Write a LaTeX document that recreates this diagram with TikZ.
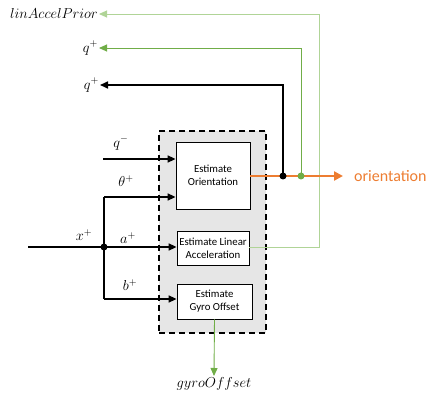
\documentclass[tikz,border=0pt]{standalone}
\usepackage{fontspec}
\setsansfont{Carlito}
\usepackage{mathtools}
\usepackage{xcolor}
\usepackage{tikz}
\usetikzlibrary{arrows.meta,calc}
\definecolor{orientorange}{HTML}{ED7D31}
\definecolor{outgreen}{HTML}{70AD47}
\definecolor{palegreen}{HTML}{B0D497}
\definecolor{filtergray}{HTML}{E6E6E6}

\begin{document}
\begin{tikzpicture}[x=1pt,y=-1pt,
        blk/.style={draw,fill=white,line width=0.8pt,align=center,inner sep=0pt,
            font=\sffamily\fontsize{10.8}{13}\selectfont},
        lbl/.style={inner sep=1pt,font=\fontsize{14.5}{16}\selectfont},
        arr/.style={line width=1.6pt,-{Triangle[length=8pt,width=7pt]}},
        garr/.style={outgreen,line width=0.9pt,-{Triangle[length=8pt,width=7pt]}},
        parr/.style={palegreen,line width=0.9pt,-{Triangle[length=8pt,width=7pt]}},
        dot/.style={circle,fill,inner sep=0pt,minimum size=7pt}]
        \useasboundingbox (0,0) rectangle (437,406);
        % filter block
        \node[draw,fill=filtergray,line width=1.6pt,dash pattern=on 6pt off 4pt,
            minimum width=107pt,minimum height=202pt] (filter) at (212.5,232) {};
        \node[blk,minimum width=74pt,minimum height=67pt] (orient) at (213,175.5) {Estimate\\Orientation};
        \node[blk,minimum width=72pt,minimum height=34pt] (accel) at (213,248) {Estimate Linear\\Acceleration};
        \node[blk,minimum width=75pt,minimum height=35pt] (gyro) at (214.5,301.5) {Estimate\\Gyro Offset};
        % inputs
        \coordinate (qin) at (103,159);
        \coordinate (xin) at (28,247);
        \node[dot] (split) at (104,247) {};
        \coordinate (thin) at (104,197);
        \coordinate (bin) at (104,299);
        \node[lbl] (qminus) at (121,143) {$q^-$};
        \node[lbl] (theta) at (126,181) {$\theta^+$};
        \node[lbl] (xplus) at (84,235) {$x^+$};
        \node[lbl] (aplus) at (128,238) {$a^+$};
        \node[lbl] (bplus) at (130,285) {$b^+$};
        \draw[arr] (qin) -- (qin -| orient.west);
        \draw[line width=1.6pt] (xin) -- (split.center);
        \draw[line width=1.6pt] (thin) -- (bin);
        \draw[arr] (thin) -- (thin -| orient.west);
        \draw[arr] (split.center) -- (split -| accel.west);
        \draw[arr] (bin) -- (bin -| gyro.west);
        % outputs
        \node[lbl,font=\sffamily\fontsize{16}{18}\selectfont,text=orientorange,anchor=west] (orientation) at (353,176) {orientation};
        \node[lbl,anchor=east] (qblack) at (100,85) {$q^+$};
        \node[lbl,anchor=east] (qgreen) at (99,48) {$q^+$};
        \node[lbl,anchor=east] (prior) at (99,14) {$linAccelPrior$};
        \node[lbl,anchor=north] (offset) at (214,376) {$gyroOffset$};
        \coordinate (jblack) at (283,176);
        \coordinate (jgreen) at (301,176);
        \coordinate (jpale) at (319,247);
        \draw[parr] (accel.east |- jpale) -- (jpale) |- (prior.east);
        \draw[orientorange,line width=2.4pt,-{Triangle[length=9pt,width=9pt]},shorten >=10pt] (orient.east |- jblack) -- (orientation.west);
        \draw[arr] (jblack) |- (qblack.east);
        \draw[garr] (jgreen) |- (qgreen.east);
        \node[dot] at (jblack) {};
        \node[dot,fill=outgreen] at (jgreen) {};
        \draw[garr] (gyro.south) -- (offset.north);
    \end{tikzpicture}
\end{document}
